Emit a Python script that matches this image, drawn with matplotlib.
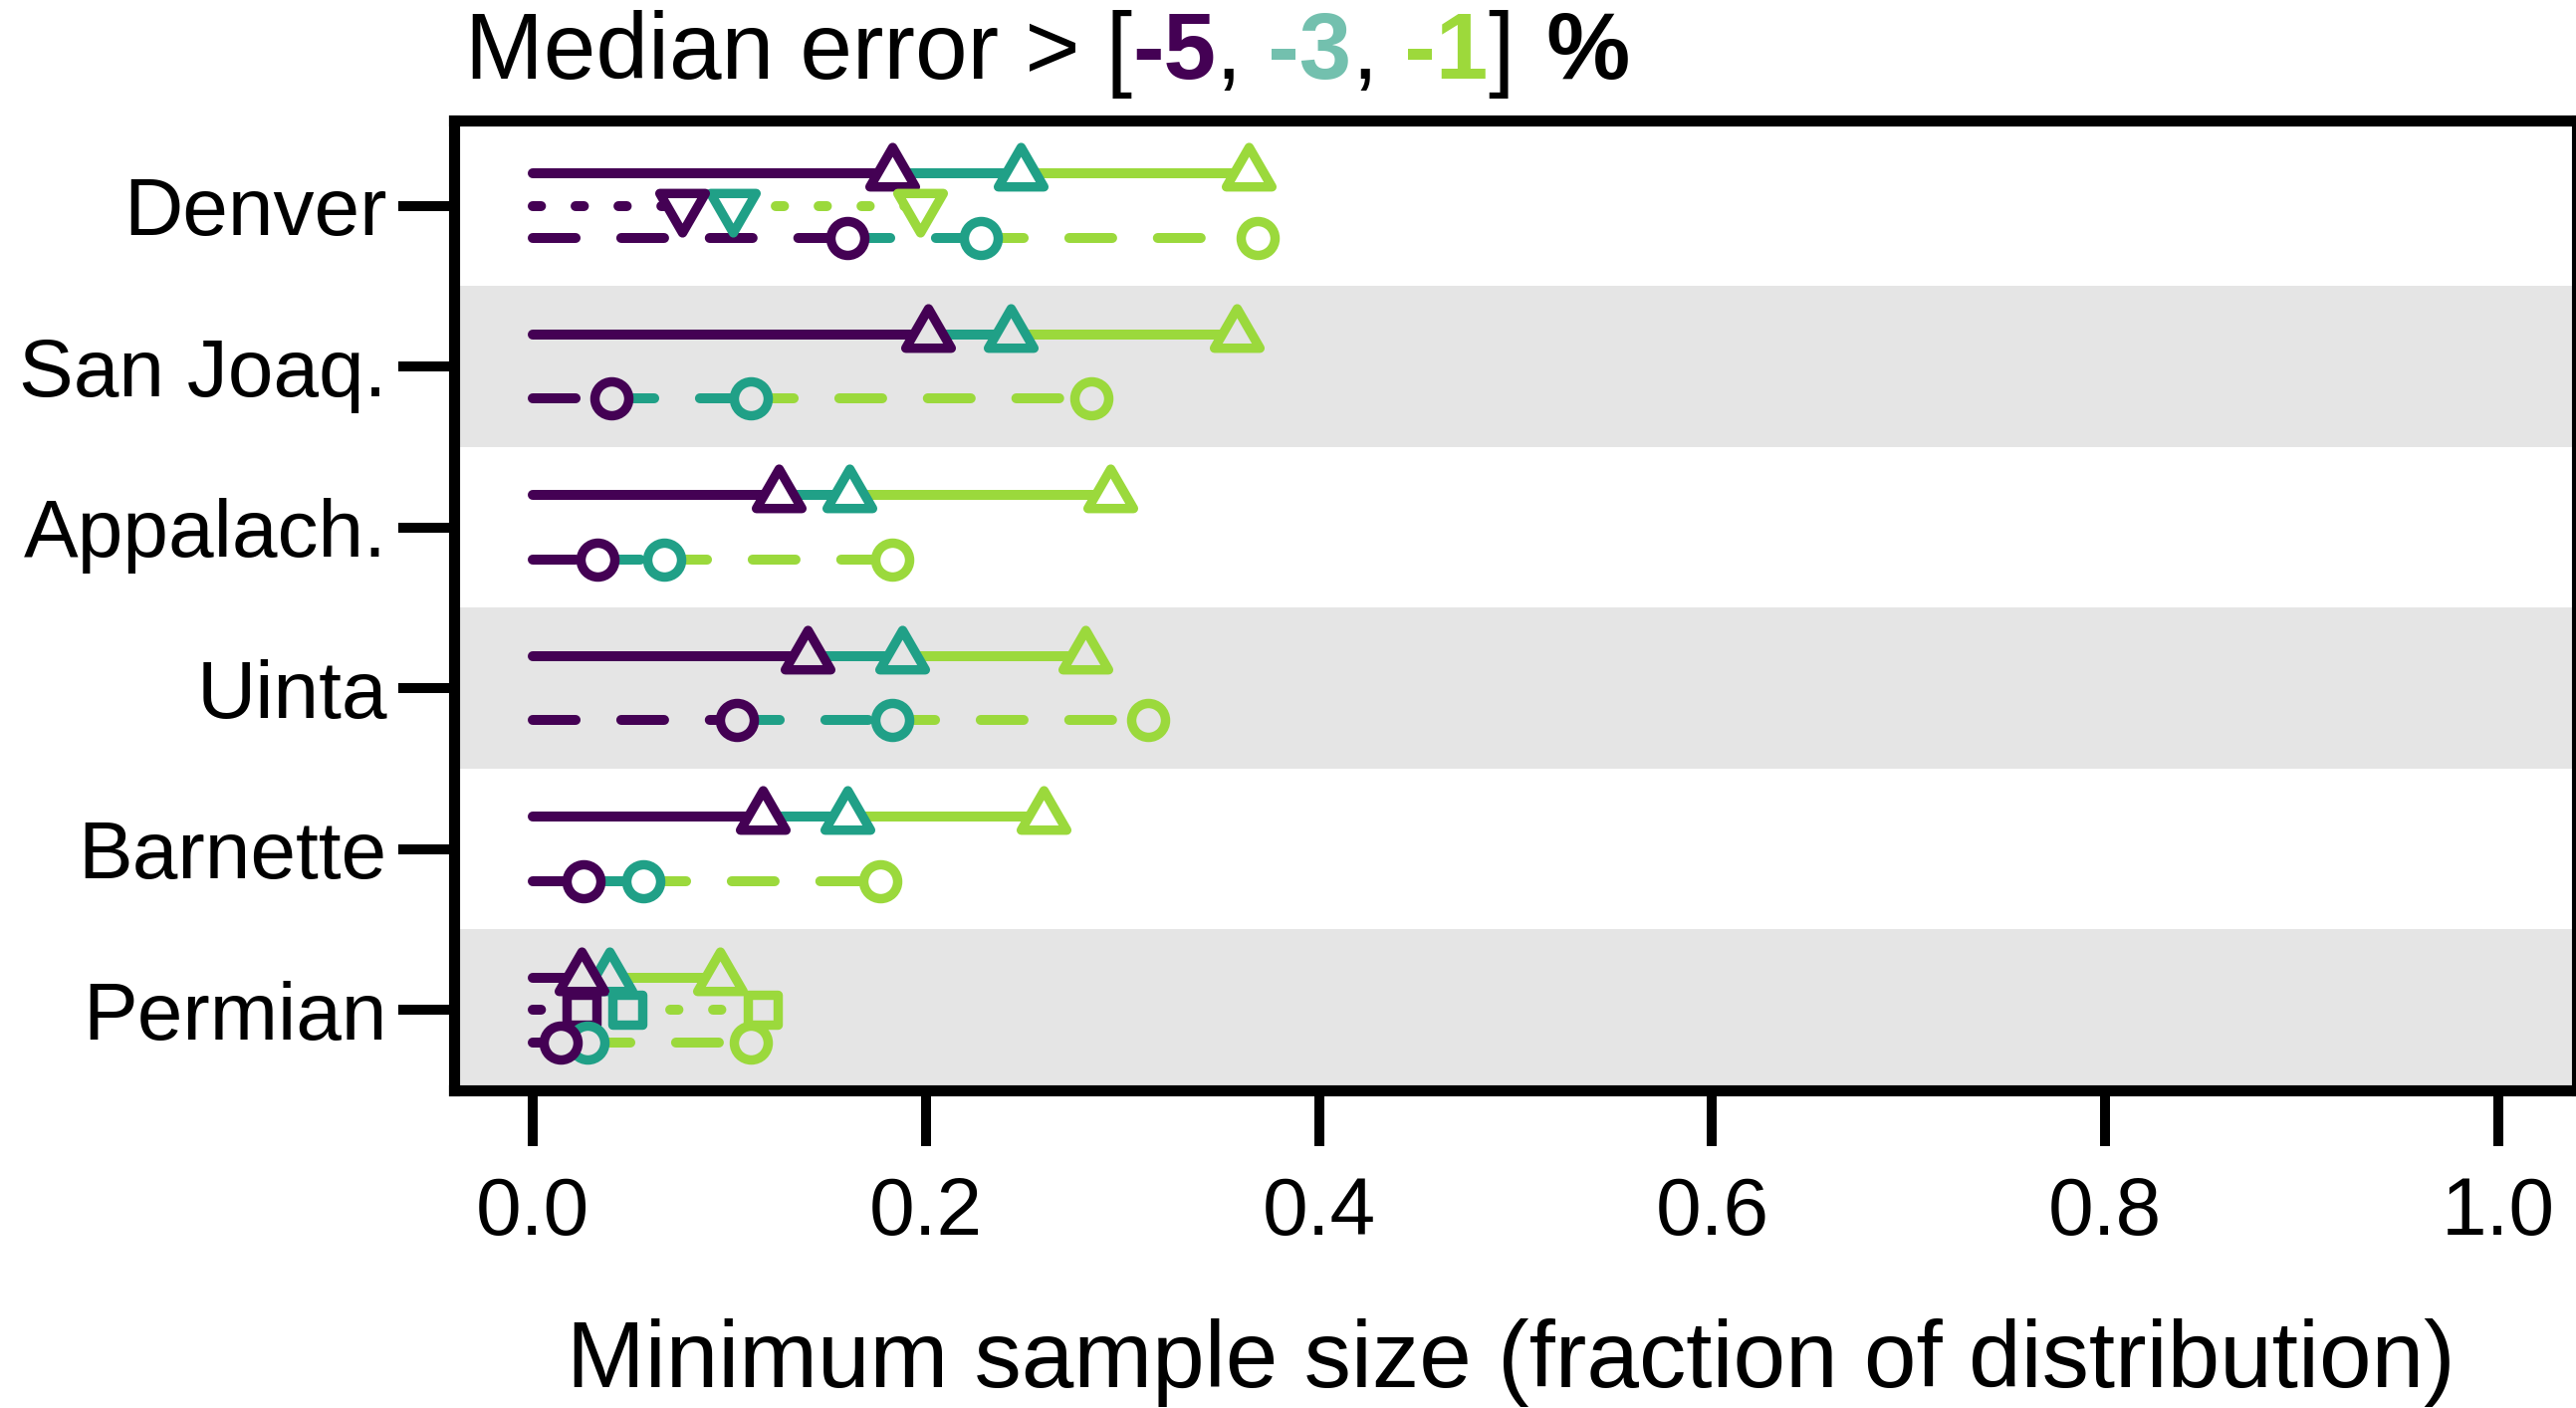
import matplotlib
matplotlib.use("Agg")
import matplotlib.pyplot as plt
from matplotlib.markers import MarkerStyle
from matplotlib.path import Path

# ================================
# DATA
# ================================

basins = ["Denver", "San Joaq.", "Appalach.", "Uinta", "Barnette", "Permian"]
error_levels = ["-5", "-3", "-1"]
x_ticks = [0.0, 0.2, 0.4, 0.6, 0.8, 1.0]

# solid lines, triangle markers (min sample size for -5, -3, -1 %)
tri_5 = [0.183, 0.201, 0.125, 0.140, 0.117, 0.025]
tri_3 = [0.248, 0.243, 0.161, 0.188, 0.160, 0.039]
tri_1 = [0.364, 0.358, 0.294, 0.281, 0.260, 0.095]

# dashed lines, circle markers
circ_5 = [0.160, 0.040, 0.033, 0.104, 0.026, 0.014]
circ_3 = [0.228, 0.111, 0.067, 0.183, 0.056, 0.028]
circ_1 = [0.369, 0.284, 0.183, 0.313, 0.177, 0.111]

# dotted lines, only for two basins
dot_basins = ["Denver", "Permian"]
dot_5 = [0.076, 0.025]
dot_3 = [0.102, 0.048]
dot_1 = [0.197, 0.117]

# ================================
# STYLE
# ================================

plt.rcParams['font.family'] = ['Liberation Sans', 'DejaVu Sans']
plt.rcParams['lines.scale_dashes'] = False

level_colors = ["#440154", "#20a087", "#9bd93c"]
title_colors = ["#440154", "#73c0ae", "#9dd93b"]
band_gray = "#e5e5e5"
LW = 7.2

up_path = Path([(0, 2 / 3), (-0.577, -1 / 3), (0.577, -1 / 3), (0, 2 / 3)],
               [Path.MOVETO, Path.LINETO, Path.LINETO, Path.CLOSEPOLY])
down_path = Path([(0, -2 / 3), (-0.577, 1 / 3), (0.577, 1 / 3), (0, -2 / 3)],
                 [Path.MOVETO, Path.LINETO, Path.LINETO, Path.CLOSEPOLY])
tri_up = MarkerStyle(up_path, joinstyle='round')
tri_down = MarkerStyle(down_path, joinstyle='round')
square = MarkerStyle('s', joinstyle='round')
circle = MarkerStyle('o')

fig = plt.figure(figsize=(25.87, 14.14), dpi=100)
ax = fig.add_axes([456 / 2587, 1 - 1095 / 1414, 2132 / 2587, 974 / 1414])

# alternating background bands
for i in range(len(basins)):
    if i % 2 == 1:
        ax.axhspan(i - 0.5, i + 0.5, color=band_gray, lw=0, zorder=0)


def draw_row(y, vals, ls, marker, ms, bg, z):
    starts = [0.0] + list(vals[:-1])
    for x0, x1, c in zip(starts, vals, level_colors):
        ax.plot([x0, x1], [y, y], color=c, lw=LW, linestyle=ls,
                solid_capstyle='round', dash_capstyle='round', zorder=2)
    # purple on top
    for k in [2, 1, 0]:
        ax.plot([vals[k]], [y], linestyle='none', marker=marker, ms=ms,
                mew=6.8, mec=level_colors[k], mfc=bg, zorder=z + (2 - k) * 0.1)


dashed = (0, (31, 33))
dotted = (0, (6, 25))

for i, name in enumerate(basins):
    bg = band_gray if i % 2 == 1 else "white"
    draw_row(i - 0.2, [tri_5[i], tri_3[i], tri_1[i]], '-', tri_up, 38, bg, 3)
    draw_row(i + 0.2, [circ_5[i], circ_3[i], circ_1[i]], dashed, circle, 24.5, bg, 5)
    if name in dot_basins:
        j = dot_basins.index(name)
        mk = tri_down if name == "Denver" else square
        ms = 38 if name == "Denver" else 21.5
        draw_row(i, [dot_5[j], dot_3[j], dot_1[j]], dotted, mk, ms, bg, 4)

ax.set_xlim(-0.04, 1.04)
ax.set_ylim(5.5, -0.53)
ax.set_xticks(x_ticks)
ax.set_xticklabels([f"{t:.1f}" for t in x_ticks])
ax.set_yticks(range(len(basins)))
ax.set_yticklabels(basins)

for sp in ax.spines.values():
    sp.set_linewidth(8)
ax.tick_params(axis='both', direction='out', length=40, width=7.2, labelsize=59)
ax.tick_params(axis='x', pad=22)
ax.tick_params(axis='y', pad=8.5)

ax.set_xlabel("Minimum sample size (fraction of distribution)", fontsize=68, va='baseline')
ax.xaxis.set_label_coords((1517 - 456) / 2132, (1095 - 1393) / 974)

# title built from colored pieces
pieces = [("Median error > [", "normal", "black", 0)]
for k, lev in enumerate(error_levels):
    pieces.append(((" " if k else "") + lev, "bold", title_colors[k], 0))
    if k < len(error_levels) - 1:
        pieces.append((",", "normal", "black", 0))
pieces.append(("]", "normal", "black", 0))
pieces.append((" %", "bold", "black", 5))

prev = None
for txt, wt, col, dx in pieces:
    if prev is None:
        prev = ax.annotate(txt, xy=(467 / 2587, 1 - 79 / 1414), xycoords='figure fraction',
                           ha='left', va='baseline', fontsize=68, fontweight=wt, color=col,
                           annotation_clip=False)
    else:
        prev = ax.annotate(txt, xy=(1, 0), xycoords=prev, xytext=(dx, 0),
                           textcoords='offset points', ha='left', va='bottom',
                           fontsize=68, fontweight=wt, color=col, annotation_clip=False)

fig.savefig("out.png", dpi=100)
